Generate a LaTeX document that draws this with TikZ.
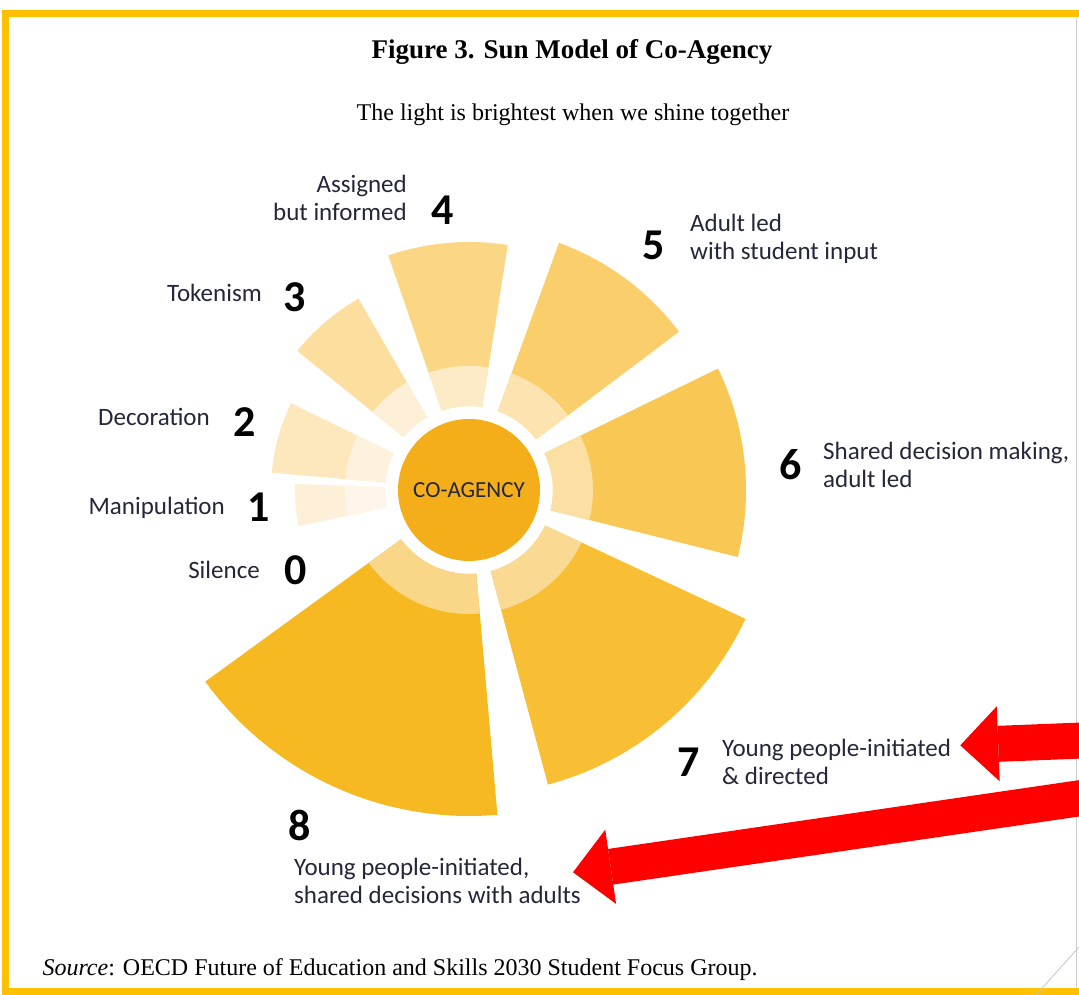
\documentclass[tikz,border=0pt]{standalone}
\usepackage{fontspec}
\setmainfont{Liberation Serif}
\newfontfamily\labelfont{Carlito}
\usetikzlibrary{arrows.meta}

\definecolor{sunframe}{HTML}{FFC000}
\definecolor{arrowred}{HTML}{FF0000}
\definecolor{labeltext}{HTML}{25263A}
\definecolor{core}{HTML}{F4AE1A}
\definecolor{ray8out}{HTML}{F7B922}
\definecolor{ray8in}{HTML}{F9D688}
\definecolor{ray7out}{HTML}{F8BF35}
\definecolor{ray7in}{HTML}{FAD992}
\definecolor{ray6out}{HTML}{F9C753}
\definecolor{ray6in}{HTML}{FBDFA3}
\definecolor{ray5out}{HTML}{FACF6B}
\definecolor{ray5in}{HTML}{FCE3B0}
\definecolor{ray4out}{HTML}{FBD785}
\definecolor{ray4in}{HTML}{FDEBC8}
\definecolor{ray3out}{HTML}{FCDF9F}
\definecolor{ray3in}{HTML}{FEEFD8}
\definecolor{ray2out}{HTML}{FDE8BE}
\definecolor{ray2in}{HTML}{FEF2DF}
\definecolor{ray1out}{HTML}{FEF0D8}
\definecolor{ray1in}{HTML}{FEF6EA}

\begin{document}
\begin{tikzpicture}[x=1pt,y=1pt,
    num/.style={font=\labelfont\bfseries\fontsize{44}{44}\selectfont,inner sep=0pt},
    txt/.style={font=\labelfont\fontsize{25}{28}\selectfont,text=labeltext,inner sep=2pt},
    redarrow/.style={draw=arrowred,line width=36pt,
      -{Triangle[length=38pt,width=75pt,line width=0pt]}}]

\useasboundingbox (0,0) rectangle (1079,995);

% frame round the slide
\draw[sunframe,line width=7pt] (1090,3.5) -- (5.5,3.5) -- (5.5,981) -- (1090,981);
\draw[gray!40,line width=0.8pt] (1076,8) -- (1076,977);
\draw[gray!45,line width=0.8pt] (1036,0) -- (1079,48);

\node[font=\bfseries\fontsize{27}{30}\selectfont] (title) at (572,943) {Figure 3. Sun Model of Co-Agency};
\node[font=\fontsize{24}{28}\selectfont] (subtitle) at (573,880) {The light is brightest when we shine together};
\node[anchor=west,font=\fontsize{24}{28}\selectfont] (source) at (39,25)
  {\textit{Source}: OECD Future of Education and Skills 2030 Student Focus Group.};

% the sun
\node[circle,fill=core,minimum size=142pt,inner sep=0pt,
  font=\labelfont\fontsize{23}{23}\selectfont,text=labeltext] (core) at (469,505) {CO-AGENCY};

\begin{scope}[shift={(core.center)}]
% ray 8
\fill[ray8out] (216:84) arc (216:275:84) -- (275:326) arc (275:216:326) -- cycle;
\fill[ray8in] (216:84) arc (216:275:84) -- (275:124) arc (275:216:124) -- cycle;
% ray 7
\fill[ray7out] (285:84) arc (285:335:84) -- (335:305) arc (335:285:305) -- cycle;
\fill[ray7in] (285:84) arc (285:335:84) -- (335:124) arc (335:285:124) -- cycle;
% ray 6
\fill[ray6out] (-14:84) arc (-14:26:84) -- (26:277) arc (26:-14:277) -- cycle;
\fill[ray6in] (-14:84) arc (-14:26:84) -- (26:124) arc (26:-14:124) -- cycle;
% ray 5
\fill[ray5out] (37:84) arc (37:70:84) -- (70:263) arc (70:37:263) -- cycle;
\fill[ray5in] (37:84) arc (37:70:84) -- (70:124) arc (70:37:124) -- cycle;
% ray 4
\fill[ray4out] (81:84) arc (81:109:84) -- (109:248) arc (109:81:248) -- cycle;
\fill[ray4in] (81:84) arc (81:109:84) -- (109:124) arc (109:81:124) -- cycle;
% ray 3
\fill[ray3out] (120:84) arc (120:141:84) -- (141:221) arc (141:120:221) -- cycle;
\fill[ray3in] (120:84) arc (120:141:84) -- (141:124) arc (141:120:124) -- cycle;
% ray 2
\fill[ray2out] (154:84) arc (154:175:84) -- (175:198) arc (175:154:198) -- cycle;
\fill[ray2in] (154:84) arc (154:175:84) -- (175:124) arc (175:154:124) -- cycle;
% ray 1
\fill[ray1out] (178:84) arc (178:192:84) -- (192:174) arc (192:178:174) -- cycle;
\fill[ray1in] (178:84) arc (178:192:84) -- (192:124) arc (192:178:124) -- cycle;
\end{scope}

% steps 0 to 4, text left of the number
\node[num] (n4) at (443,785) {4};
\node[txt,anchor=east,align=right] (t4) at (409,797) {Assigned\\but informed};
\node[num] (n3) at (295,698) {3};
\node[txt,anchor=east] (t3) at (264,702) {Tokenism};
\node[num] (n2) at (245,573) {2};
\node[txt,anchor=east] (t2) at (212,578) {Decoration};
\node[num] (n1) at (259,488) {1};
\node[txt,anchor=east] (t1) at (227,487) {Manipulation};
\node[num] (n0) at (296,425) {0};
\node[txt,anchor=east] (t0) at (262,425) {Silence};

% steps 5 to 8, text right of the number
\node[num] (n5) at (654,750) {5};
\node[txt,anchor=west,align=left] (t5) at (688,756) {Adult led\\with student input};
\node[num] (n6) at (791,530) {6};
\node[txt,anchor=west,align=left] (t6) at (821,530) {Shared decision making,\\adult led};
\node[num] (n7) at (689,233) {7};
\node[txt,anchor=west,align=left] (t7) at (720,233) {Young people-initiated\\\& directed};
\node[num] (n8) at (300,170) {8};
\node[txt,anchor=west,align=left] (t8) at (292,114) {Young people-initiated,\\shared decisions with adults};

% red pointers
\coordinate (fromA) at (1095,255);
\coordinate (fromB) at (1095,199);
\draw[redarrow,shorten >=7pt] (fromA) -- (t7.8);
\draw[redarrow,shorten >=-10pt] (fromB) -- (t8.4);

\end{tikzpicture}
\end{document}
